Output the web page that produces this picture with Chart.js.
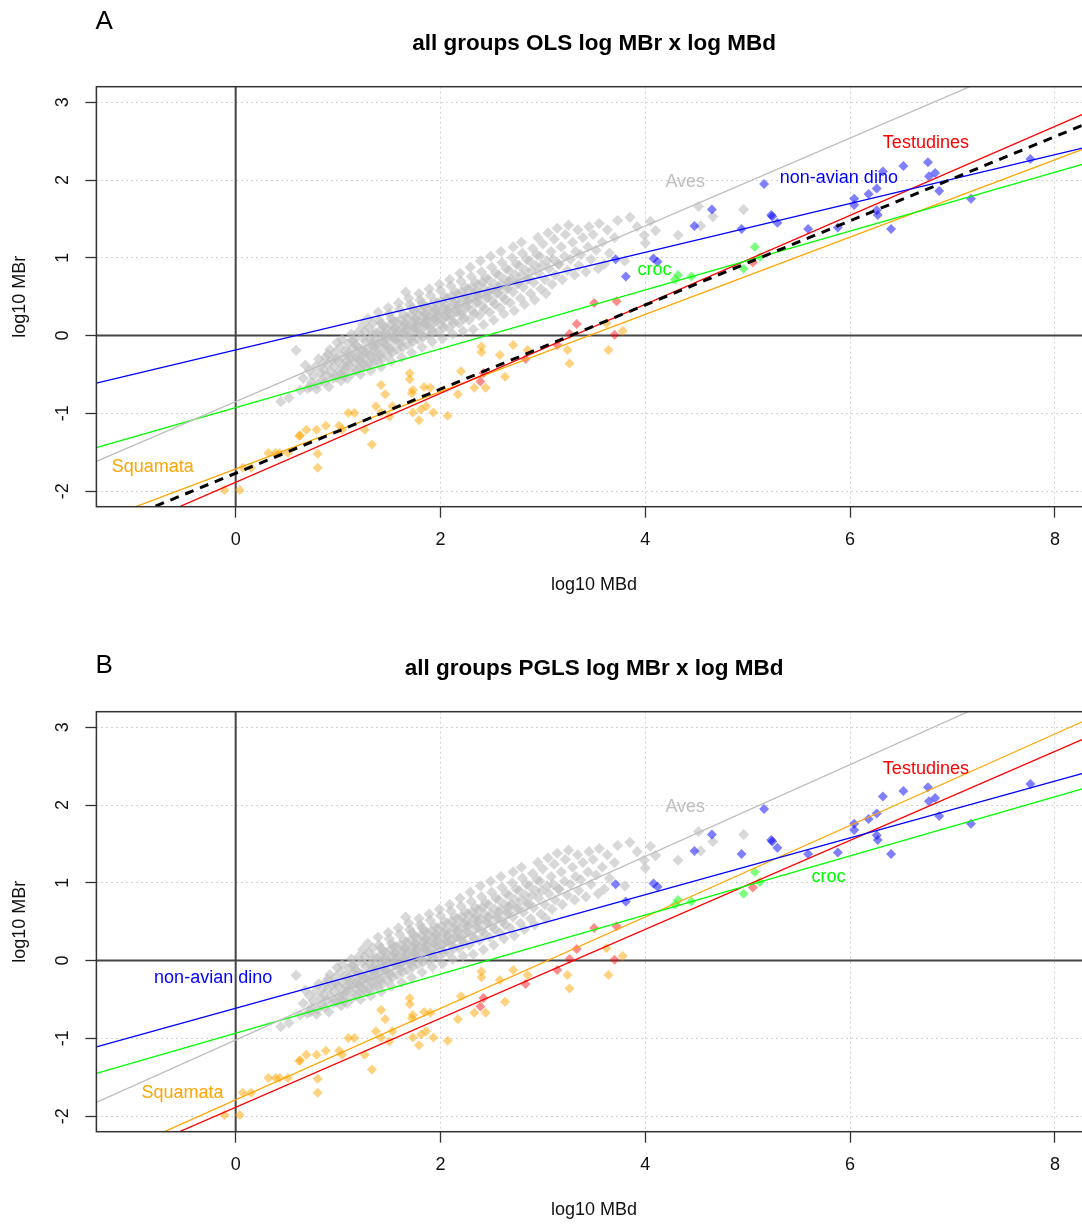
<!DOCTYPE html>
<html>
<head>
<meta charset="utf-8">
<script src="https://cdn.jsdelivr.net/npm/chart.js@4.4.1/dist/chart.umd.min.js"></script>
<style>
  html, body { margin: 0; padding: 0; background: #fff; overflow: hidden; }
  canvas { position: absolute; left: 0; }
  #panelA { top: 0; }
  #panelB { top: 625px; }
</style>
</head>
<body>
<canvas id="panelA" width="1100" height="625"></canvas>
<canvas id="panelB" width="1100" height="625"></canvas>
<script>
// axis limits: xlim c(-1,8), ylim c(-2,3) plus R's 4% extension
const xLim = [-1.36, 8.36];
const yLim = [-2.2, 3.2];
const xTicks = [0, 2, 4, 6, 8];
const yTicks = [-2, -1, 0, 1, 2, 3];

// regression lines (abline intercept / slope), one entry per group
const groups = ['all', 'Aves', 'non-avian dino', 'croc', 'Testudines', 'Squamata'];
const groupColors = ['#000000', '#bebebe', '#0000ff', '#00ff00', '#ff0000', '#ffa500'];
const olsIntercept = [-1.77, -0.85, -0.185, -0.925, -1.886, -1.715];
const olsSlope = [0.541, 0.565, 0.314, 0.378, 0.572, 0.497];
const pglsIntercept = [null, -1.02, -0.613, -0.934, -1.886, -1.79];
const pglsSlope = [null, 0.59, 0.365, 0.38, 0.572, 0.588];

// species points [log10 MBd, log10 MBr]
const dinoPts = [[5.16,1.95],[6.52,2.18],[6.76,2.23],[6.83,2.09],[6.77,2.05],[6.87,1.86],[7.18,1.76],[7.76,2.27],
  [6.32,2.11],[6.26,1.89],[6.18,1.82],[6.04,1.76],[6.04,1.68],[6.26,1.61],[6.27,1.55],[6.40,1.37],[5.59,1.37],
  [5.88,1.39],[5.23,1.55],[5.24,1.53],[5.29,1.45],[4.94,1.37],[4.65,1.62],[4.48,1.41],[4.08,0.99],[4.12,0.95],
  [3.81,0.76],[3.71,0.98]];
const crocPts = [[5.07,1.14],[5.12,1.01],[4.96,0.86],[4.32,0.78],[4.29,0.72],[4.45,0.76]];
const testPts = [[2.39,-0.59],[2.42,-0.48],[2.83,-0.30],[3.14,-0.12],[3.26,0.02],[3.33,0.15],[3.50,0.42],
  [3.72,0.44],[3.70,0.01],[5.05,0.94]];
const squaPts = [[-0.11,-1.985],[0.04,-1.985],[0.07,-1.70],[0.15,-1.70],[0.32,-1.51],[0.39,-1.51],[0.43,-1.51],
  [0.51,-1.51],[0.62,-1.29],[0.63,-1.28],[0.69,-1.21],[0.79,-1.21],[0.88,-1.16],[1.01,-1.16],[1.04,-1.21],
  [0.80,-1.52],[0.80,-1.70],[1.10,-0.995],[1.16,-0.995],[1.26,-1.21],[1.33,-1.40],[1.37,-0.91],[1.42,-0.635],
  [1.46,-0.755],[1.42,-0.99],[1.50,-1.04],[1.53,-0.91],[1.70,-0.485],[1.70,-0.56],[1.72,-0.74],[1.73,-0.70],
  [1.73,-0.99],[1.79,-1.09],[1.81,-0.95],[1.86,-0.91],[1.84,-0.66],[1.90,-0.67],[1.93,-0.99],[2.07,-1.03],
  [2.17,-0.755],[2.20,-0.46],[2.33,-0.67],[2.40,-0.14],[2.40,-0.215],[2.44,-0.67],[2.58,-0.25],[2.63,-0.53],
  [2.71,-0.12],[2.85,-0.185],[3.62,0.16],[3.78,0.06],[3.24,-0.185],[3.64,-0.185],[3.26,-0.36]];
const avesPts = [
  [0.44,-0.85],[0.52,-0.80],[0.59,-0.19],[0.63,-0.70],[0.73,-0.66],
  [0.66,-0.55],[0.70,-0.68],[0.72,-0.45],[0.74,-0.60],[0.68,-0.38],
  [0.76,-0.52],[0.78,-0.40],[0.80,-0.63],[0.81,-0.30],[0.83,-0.48],[0.84,-0.57],[0.79,-0.69],[0.85,-0.36],
  [0.86,-0.44],[0.87,-0.60],[0.88,-0.28],[0.89,-0.51],[0.90,-0.37],[0.91,-0.66],[0.92,-0.18],[0.93,-0.47],
  [0.94,-0.31],[0.95,-0.55],[0.90,-0.24],
  [0.96,-0.40],[0.97,-0.22],[0.98,-0.53],[0.99,-0.09],[1.00,-0.33],[1.01,-0.46],[1.02,-0.15],[1.03,-0.58],
  [1.04,-0.27],[1.05,-0.38],[0.98,-0.30],[1.02,-0.50],[1.04,-0.05],
  [1.06,-0.45],[1.07,-0.20],[1.08,-0.33],[1.09,-0.55],[1.10,-0.10],[1.11,-0.38],[1.12,-0.26],[1.13,0.02],
  [1.14,-0.48],[1.15,-0.16],[1.08,-0.40],[1.12,-0.30],[1.10,-0.22],[1.14,-0.06],[1.06,-0.52],
  [1.16,-0.35],[1.17,-0.12],[1.18,-0.44],[1.19,-0.24],[1.20,0.05],[1.21,-0.30],[1.22,-0.50],[1.23,-0.18],
  [1.24,-0.02],[1.25,-0.38],[1.18,-0.28],[1.20,-0.15],[1.22,-0.34],[1.24,0.14],[1.16,-0.06],[1.21,-0.42],[1.25,-0.22],
  [1.26,-0.30],[1.27,-0.08],[1.28,-0.40],[1.29,-0.18],[1.30,0.10],[1.31,-0.25],[1.32,-0.45],[1.33,-0.12],
  [1.34,0.02],[1.35,-0.34],[1.27,-0.22],[1.29,0.22],[1.31,-0.05],[1.33,-0.28],[1.35,-0.15],[1.26,0.05],
  [1.30,-0.36],[1.34,0.16],
  [1.36,-0.20],[1.37,0.04],[1.38,-0.32],[1.39,-0.10],[1.40,0.20],[1.41,-0.26],[1.42,-0.40],[1.43,-0.02],
  [1.44,0.12],[1.45,-0.16],[1.37,-0.12],[1.39,0.30],[1.41,0.06],[1.43,-0.30],[1.45,0.00],[1.36,-0.05],
  [1.40,-0.22],[1.44,-0.08],[1.42,0.16],
  [1.46,-0.12],[1.47,0.10],[1.48,-0.25],[1.49,0.00],[1.50,0.28],[1.51,-0.18],[1.52,-0.33],[1.53,0.06],
  [1.54,0.18],[1.55,-0.06],[1.47,-0.04],[1.49,0.36],[1.51,0.14],[1.53,-0.22],[1.55,0.08],[1.46,0.04],
  [1.50,-0.14],[1.54,-0.02],[1.52,0.22],
  [1.56,-0.05],[1.57,0.18],[1.58,-0.18],[1.59,0.06],[1.60,0.34],[1.61,-0.10],[1.62,-0.28],[1.63,0.12],
  [1.64,0.26],[1.65,0.00],[1.57,0.02],[1.59,0.42],[1.61,0.20],[1.63,-0.15],[1.65,0.14],[1.56,0.10],
  [1.60,-0.06],[1.64,0.04],[1.66,0.56],
  [1.66,0.02],[1.67,0.24],[1.68,-0.12],[1.69,0.12],[1.70,0.40],[1.71,-0.04],[1.72,-0.22],[1.73,0.18],
  [1.74,0.32],[1.75,0.06],[1.67,0.08],[1.69,0.48],[1.71,0.26],[1.73,-0.08],[1.75,0.20],[1.66,0.16],
  [1.70,0.00],[1.74,0.10],[1.72,0.36],
  [1.76,0.08],[1.77,0.30],[1.78,-0.05],[1.79,0.18],[1.80,0.46],[1.81,0.02],[1.82,-0.15],[1.83,0.24],
  [1.84,0.38],[1.85,0.12],[1.77,0.14],[1.79,0.54],[1.81,0.32],[1.83,-0.02],[1.85,0.26],[1.76,0.22],
  [1.80,0.06],[1.84,0.16],[1.82,0.42],
  [1.86,0.14],[1.87,0.36],[1.88,0.00],[1.89,0.24],[1.90,0.52],[1.91,0.08],[1.92,-0.08],[1.93,0.30],
  [1.94,0.44],[1.95,0.18],[1.87,0.20],[1.89,0.60],[1.91,0.38],[1.93,0.04],[1.95,0.32],[1.86,0.28],
  [1.90,0.12],[1.94,0.22],
  [1.96,0.20],[1.97,0.42],[1.98,0.05],[1.99,0.30],[2.00,0.58],[2.01,0.14],[2.02,-0.04],[2.03,0.36],
  [2.04,0.50],[2.05,0.24],[1.97,0.26],[1.99,0.66],[2.01,0.44],[2.03,0.10],[2.05,0.38],[1.96,0.34],[2.02,0.20],
  [2.06,0.26],[2.07,0.48],[2.08,0.10],[2.09,0.36],[2.10,0.64],[2.11,0.20],[2.12,0.02],[2.13,0.42],
  [2.14,0.56],[2.15,0.30],[2.07,0.32],[2.09,0.72],[2.11,0.50],[2.13,0.16],[2.15,0.44],[2.10,0.26],
  [2.16,0.32],[2.17,0.54],[2.18,0.16],[2.19,0.42],[2.20,0.70],[2.21,0.26],[2.22,0.06],[2.23,0.48],
  [2.24,0.62],[2.25,0.36],[2.17,0.38],[2.19,0.80],[2.21,0.56],[2.23,0.22],[2.25,0.50],[2.20,0.30],
  [2.26,0.38],[2.27,0.60],[2.28,0.20],[2.29,0.48],[2.30,0.76],[2.31,0.32],[2.32,0.08],[2.33,0.54],
  [2.34,0.68],[2.35,0.42],[2.27,0.44],[2.29,0.88],[2.31,0.62],[2.33,0.28],[2.35,0.56],
  [2.36,0.44],[2.37,0.66],[2.38,0.26],[2.39,0.54],[2.40,0.82],[2.41,0.38],[2.42,0.14],[2.43,0.60],
  [2.44,0.74],[2.45,0.48],[2.37,0.50],[2.39,0.96],[2.41,0.68],[2.43,0.34],
  [2.46,0.50],[2.47,0.72],[2.48,0.30],[2.49,0.60],[2.50,0.88],[2.51,0.44],[2.52,0.20],[2.53,0.66],
  [2.54,0.80],[2.55,0.54],[2.47,0.56],[2.49,1.02],[2.53,0.40],
  [2.56,0.56],[2.57,0.78],[2.58,0.36],[2.59,0.66],[2.60,0.94],[2.61,0.50],[2.62,0.28],[2.63,0.72],
  [2.64,0.86],[2.65,0.60],[2.57,0.62],[2.59,1.08],[2.63,0.46],
  [2.66,0.62],[2.67,0.84],[2.68,0.42],[2.69,0.72],[2.70,1.00],[2.71,0.56],[2.72,0.32],[2.73,0.78],
  [2.74,0.92],[2.75,0.66],[2.67,0.70],[2.71,1.14],
  [2.76,0.68],[2.77,0.90],[2.78,0.48],[2.79,0.78],[2.80,1.06],[2.81,0.62],[2.82,0.40],[2.83,0.84],
  [2.84,0.98],[2.85,0.72],[2.79,1.20],
  [2.86,0.74],[2.87,0.96],[2.88,0.54],[2.89,0.84],[2.90,1.12],[2.91,0.68],[2.92,0.46],[2.93,0.90],
  [2.94,1.04],[2.95,1.26],
  [2.96,0.80],[2.97,1.02],[2.98,0.60],[2.99,0.90],[3.00,1.18],[3.02,0.72],[3.03,0.54],[3.04,0.96],[3.05,1.32],
  [3.06,0.86],[3.08,1.08],[3.09,0.66],[3.10,0.98],[3.11,1.24],[3.12,0.78],[3.14,1.38],[3.15,0.92],
  [3.16,0.92],[3.18,1.14],[3.19,0.72],[3.21,1.02],[3.22,1.30],[3.24,0.84],[3.25,1.42],
  [3.27,0.98],[3.29,1.20],[3.31,0.78],[3.32,1.08],[3.34,1.36],[3.35,0.90],
  [3.37,1.04],[3.39,1.26],[3.42,0.82],[3.44,1.14],[3.45,1.40],
  [3.47,0.98],[3.49,1.30],[3.52,1.10],[3.54,0.86],[3.55,1.44],
  [3.58,1.20],[3.60,0.92],[3.63,1.36],[3.65,1.06],
  [3.70,1.26],[3.73,1.48],[3.80,0.96],[3.85,1.52],
  [3.92,1.40],[3.99,1.29],[4.00,1.19],[4.05,1.47],[4.10,1.35],[4.32,1.29],[4.52,1.66],[4.54,1.41],
  [4.66,1.53],[4.96,1.62]];

const FONT = "'Liberation Sans', Arial, sans-serif";

function makeChart(id, cfg) {
  const lines = [];
  for (let i = 0; i < groups.length; i++) {
    const a = cfg.intercept[i], b = cfg.slope[i];
    if (a === null) continue;
    lines.push({
      label: groups[i] + ' fit',
      data: [{x: xLim[0], y: a + b * xLim[0]}, {x: xLim[1], y: a + b * xLim[1]}],
      showLine: true,
      pointRadius: 0,
      borderColor: groupColors[i],
      borderWidth: i === 0 ? 3 : 1.3,
      borderDash: i === 0 ? [9, 7] : []
    });
  }
  const points = [
    ['non-avian dino', dinoPts, 'rgba(0,0,255,0.5)', 5],
    ['croc', crocPts, 'rgba(0,255,0,0.5)', 5],
    ['Testudines', testPts, 'rgba(255,0,0,0.45)', 5],
    ['Squamata', squaPts, 'rgba(255,165,0,0.5)', 5],
    ['Aves', avesPts, 'rgba(190,190,190,0.6)', 5.6]
  ].map(([label, data, color, r]) => ({
    label, data, backgroundColor: color, borderWidth: 0, pointStyle: 'rectRot', pointRadius: r
  }));

  const decor = {
    id: 'decor',
    beforeDatasetsDraw(chart) {
      const {ctx, chartArea: ca, scales: {x, y}} = chart;
      const x0 = x.getPixelForValue(0), y0 = y.getPixelForValue(0);
      ctx.save();
      ctx.strokeStyle = '#444';
      ctx.lineWidth = 2;
      ctx.beginPath();
      ctx.moveTo(x0, ca.top); ctx.lineTo(x0, ca.bottom);
      ctx.moveTo(ca.left, y0); ctx.lineTo(ca.right, y0);
      ctx.stroke();
      ctx.restore();
    },
    afterDraw(chart) {
      const {ctx, chartArea: ca, scales: {x, y}} = chart;
      ctx.save();
      // plot box
      ctx.strokeStyle = '#333';
      ctx.lineWidth = 1.5;
      ctx.strokeRect(ca.left, ca.top, ca.right - ca.left, ca.bottom - ca.top);
      // y tick labels, rotated as in R
      ctx.fillStyle = '#111';
      ctx.font = '18px ' + FONT;
      ctx.textAlign = 'center';
      ctx.textBaseline = 'middle';
      y.ticks.forEach(t => {
        ctx.save();
        ctx.translate(63.5, y.getPixelForValue(t.value));
        ctx.rotate(-Math.PI / 2);
        ctx.fillText(String(t.value), 0, 0);
        ctx.restore();
      });
      // title and panel letter
      ctx.fillStyle = '#000';
      ctx.font = 'bold 22.5px ' + FONT;
      ctx.textBaseline = 'alphabetic';
      ctx.fillText(cfg.title, (ca.left + ca.right) / 2, 50);
      ctx.font = '26px ' + FONT;
      ctx.textAlign = 'left';
      ctx.fillText(cfg.letter, 95.4, cfg.letterY);
      // group labels
      ctx.font = '18px ' + FONT;
      ctx.textAlign = 'center';
      ctx.textBaseline = 'middle';
      cfg.labels.forEach(([gi, lx, ly]) => {
        ctx.fillStyle = groupColors[gi];
        ctx.fillText(groups[gi], x.getPixelForValue(lx), y.getPixelForValue(ly));
      });
      ctx.restore();
    }
  };

  const gridOpts = {color: '#d3d3d3', lineWidth: 1, tickLength: 11, tickColor: '#333', tickWidth: 1.3, tickBorderDash: []};
  const axisFont = {family: FONT, size: 18, lineHeight: 1};

  return new Chart(document.getElementById(id), {
    type: 'scatter',
    data: {datasets: lines.concat(points)},
    plugins: [decor],
    options: {
      responsive: false,
      devicePixelRatio: 1,
      animation: false,
      events: [],
      layout: {padding: {left: 0, right: 8.2, top: 86.7, bottom: 0}},
      plugins: {legend: {display: false}, tooltip: {enabled: false}, title: {display: false}},
      scales: {
        x: {
          type: 'linear', min: xLim[0], max: xLim[1],
          afterBuildTicks: s => { s.ticks = xTicks.map(v => ({value: v})); },
          afterFit: s => { s.height = 118.3; },
          grid: gridOpts,
          border: {display: false, dash: [2, 3]},
          ticks: {font: axisFont, color: '#111', padding: 13.3, maxRotation: 0, autoSkip: false},
          title: {display: true, text: 'log10 MBd', font: axisFont, color: '#111', padding: {top: 0, bottom: 30.7}}
        },
        y: {
          type: 'linear', min: yLim[0], max: yLim[1],
          afterBuildTicks: s => { s.ticks = yTicks.map(v => ({value: v})); },
          afterFit: s => { s.width = 96.4; },
          grid: gridOpts,
          border: {display: false, dash: [2, 3]},
          ticks: {display: false},
          title: {display: true, text: 'log10 MBr', font: axisFont, color: '#111', padding: {top: 11, bottom: 0}}
        }
      }
    }
  });
}

makeChart('panelA', {
  intercept: olsIntercept, slope: olsSlope,
  title: 'all groups OLS log MBr x log MBd', letter: 'A', letterY: 29.3,
  labels: [[1, 4.39, 1.98], [2, 5.89, 2.02], [3, 4.09, 0.845], [4, 6.74, 2.476], [5, -0.81, -1.695]]
});
makeChart('panelB', {
  intercept: pglsIntercept, slope: pglsSlope,
  title: 'all groups PGLS log MBr x log MBd', letter: 'B', letterY: 48.3,
  labels: [[1, 4.39, 1.97], [2, -0.22, -0.23], [3, 5.79, 1.08], [4, 6.74, 2.465], [5, -0.52, -1.706]]
});
</script>
</body>
</html>
